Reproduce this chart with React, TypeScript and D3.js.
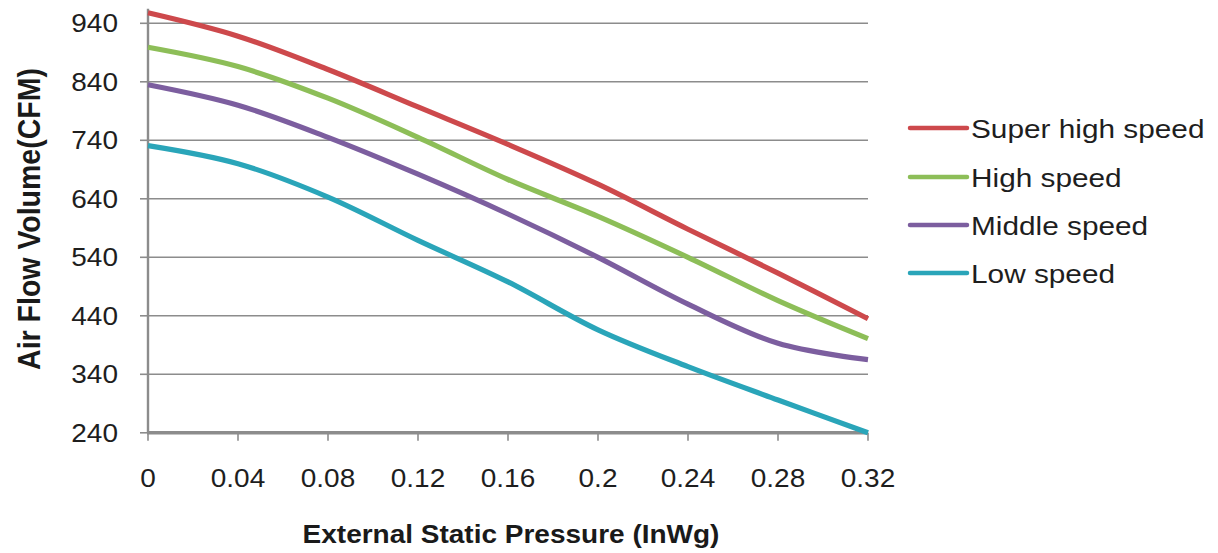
import React from "react";
import * as d3 from "d3";

const pressure = [0, 0.04, 0.08, 0.12, 0.16, 0.2, 0.24, 0.28, 0.32];
const superHigh = [958, 918, 861, 797, 733, 665, 588, 513, 435];
const high = [899, 866, 812, 745, 673, 610, 540, 466, 401];
const middle = [835, 800, 745, 682, 614, 540, 460, 393, 365];
const low = [731, 700, 643, 569, 498, 416, 353, 296, 240];

const seriesNames = ["Super high speed", "High speed", "Middle speed", "Low speed"];
const seriesColors = ["#CD494C", "#8DBE58", "#7C5E9F", "#2AA5B9"];
const seriesValues = [superHigh, high, middle, low];

const yTicks = [240, 340, 440, 540, 640, 740, 840, 940];
const xTicks = [0, 0.04, 0.08, 0.12, 0.16, 0.2, 0.24, 0.28, 0.32];
const xTickLabels = ["0", "0.04", "0.08", "0.12", "0.16", "0.2", "0.24", "0.28", "0.32"];

const FONT = "'Liberation Sans', Arial, sans-serif";
const SX = 1.12;

export default function App() {
  const x = d3.scaleLinear().domain([0, 0.32]).range([148, 868]);
  const y = d3.scaleLinear().domain([240, 940]).range([432.8, 23.3]);
  const line = d3
    .line<number>()
    .x((_, i) => x(pressure[i]))
    .y((d) => y(d))
    .curve(d3.curveCatmullRom.alpha(0.5));

  const legendY = [128, 177, 225, 273];

  return (
    <svg
      width={1218}
      height={553}
      style={{ position: "absolute", left: 0, top: 0, background: "#fff" }}
      fontFamily={FONT}
    >
      {yTicks.slice(1).map((t) => (
        <line key={"g" + t} x1={x(0)} x2={x(0.32)} y1={y(t)} y2={y(t)} stroke="#8C8C8C" strokeWidth={1.6} />
      ))}
      {yTicks.map((t) => (
        <line key={"yt" + t} x1={x(0) - 8} x2={x(0)} y1={y(t)} y2={y(t)} stroke="#8C8C8C" strokeWidth={1.6} />
      ))}
      {xTicks.map((t) => (
        <line key={"xt" + t} x1={x(t)} x2={x(t)} y1={y(240)} y2={y(240) + 8} stroke="#8C8C8C" strokeWidth={1.6} />
      ))}
      <line x1={x(0)} x2={x(0)} y1={y(965)} y2={y(240)} stroke="#8C8C8C" strokeWidth={2.4} />
      <line x1={x(0) - 1} x2={x(0.32)} y1={y(240)} y2={y(240)} stroke="#8C8C8C" strokeWidth={3.5} />

      {seriesValues.map((vals, i) => (
        <path
          key={seriesNames[i]}
          d={line(vals) || ""}
          fill="none"
          stroke={seriesColors[i]}
          strokeWidth={5.2}
          strokeLinecap="butt"
          strokeLinejoin="round"
        />
      ))}

      {yTicks.map((t) => (
        <text
          key={"yl" + t}
          transform={`translate(118,${y(t) + 9}) scale(${SX},1)`}
          textAnchor="end"
          fontSize={25}
          fill="#1e1e1e"
        >
          {t}
        </text>
      ))}
      {xTicks.map((t, i) => (
        <text
          key={"xl" + t}
          transform={`translate(${x(t)},487) scale(${SX},1)`}
          textAnchor="middle"
          fontSize={25}
          fill="#1e1e1e"
        >
          {xTickLabels[i]}
        </text>
      ))}

      <text
        transform={`translate(511,543) scale(${SX},1)`}
        textAnchor="middle"
        fontSize={25}
        fontWeight="bold"
        fill="#1a1a1a"
      >
        External Static Pressure (InWg)
      </text>
      <text
        transform={`translate(40,219) scale(${SX},1) rotate(-90)`}
        textAnchor="middle"
        fontSize={28.5}
        fontWeight="bold"
        fill="#1a1a1a"
      >
        Air Flow Volume(CFM)
      </text>

      {seriesNames.map((n, i) => (
        <g key={"lg" + n}>
          <line
            x1={910}
            x2={967}
            y1={legendY[i]}
            y2={legendY[i]}
            stroke={seriesColors[i]}
            strokeWidth={4.5}
            strokeLinecap="round"
          />
          <text
            transform={`translate(971,${legendY[i] + 10}) scale(${SX},1)`}
            fontSize={26.6}
            fill="#1e1e1e"
          >
            {n}
          </text>
        </g>
      ))}
    </svg>
  );
}
